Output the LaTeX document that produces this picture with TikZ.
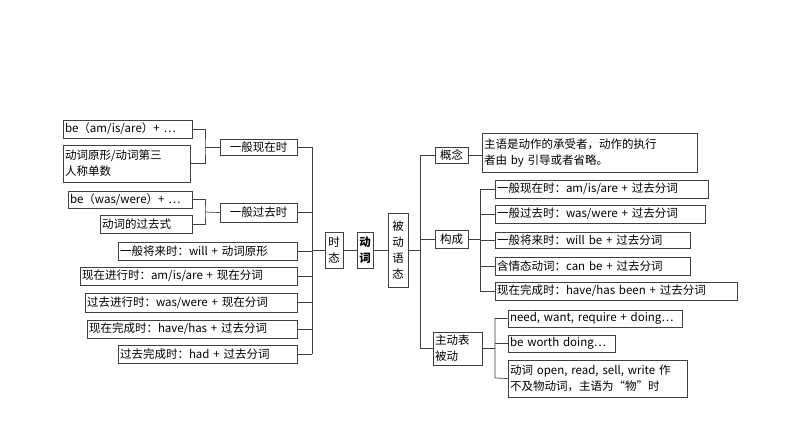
\documentclass[tikz,border=0pt]{standalone}
\usepackage{fontspec}
\setmainfont{Noto Sans CJK SC}
\begin{document}
\begin{tikzpicture}[x=1pt,y=-1pt,font=\fontsize{11.5}{16}\selectfont,
  bx/.style={draw=black!75,line width=0.7pt,inner sep=2pt,anchor=center},
  ln/.style={draw=black!75,line width=0.7pt}]
\useasboundingbox (0,0) rectangle (794,447);
\fill[white] (0,0) rectangle (794,447);
\newcommand\bx[6]{\node[bx,minimum width={#4-#2},minimum height={#5-#3},text width={#4-#2-4},align=left] (#1) at ({(#2+#4)/2},{(#3+#5)/2}) {#6};}
\newcommand\bxc[6]{\node[bx,minimum width={#4-#2},minimum height={#5-#3},text width={#4-#2-4},align=center] (#1) at ({(#2+#4)/2},{(#3+#5)/2}) {#6};}
% left
\bx{a1}{63}{120}{192}{138}{be（am/is/are）+ …}
\bx{a2}{63}{145}{190}{182}{动词原形/动词第三\\人称单数}
\bxc{p1}{220}{139}{297}{155}{一般现在时}
\bx{b1}{68}{191}{192}{208}{be（was/were）+ …}
\bx{b2}{100}{215}{192}{233}{动词的过去式}
\bxc{p2}{220}{203}{297}{222}{一般过去时}
\bx{t3}{118}{242}{297}{260}{一般将来时：will + 动词原形}
\bx{t4}{80}{267}{297}{285}{现在进行时：am/is/are + 现在分词}
\bx{t5}{85}{293}{297}{312}{过去进行时：was/were + 现在分词}
\bx{t6}{87}{320}{297}{338}{现在完成时：have/has + 过去分词}
\bx{t7}{118}{345}{297}{363}{过去完成时：had + 过去分词}
\bxc{sz}{325}{232}{343}{268}{时\\态}
\bxc{dc}{357}{232}{373}{268}{\textbf{动}\\\textbf{词}}
\bxc{bd}{388}{213}{408}{287}{被\\动\\语\\态}
% right
\bxc{gn}{435}{147}{468}{163}{概念}
\bx{gnt}{482}{133}{697}{172}{主语是动作的承受者，动作的执行\\者由 by 引导或者省略。}
\bxc{gc}{435}{230}{468}{248}{构成}
\bx{c1}{495}{180}{708}{198}{一般现在时：am/is/are + 过去分词}
\bx{c2}{495}{205}{705}{223}{一般过去时：was/were + 过去分词}
\bx{c3}{495}{232}{690}{248}{一般将来时：will be + 过去分词}
\bx{c4}{495}{257}{690}{275}{含情态动词：can be + 过去分词}
\bx{c5}{495}{282}{737}{300}{现在完成时：have/has been + 过去分词}
\bx{zd}{433}{332}{482}{365}{主动表\\被动}
\bx{d1}{508}{310}{682}{327}{\mbox{need, want, require + doing…}}
\bx{d2}{508}{335}{615}{352}{be worth doing…}
\bx{d3}{508}{360}{687}{397}{动词 open, read, sell, write 作\\不及物动词，主语为“物”时}
% connectors left
\draw[ln] (a1.east) -| (205,147) |- (a2.east);
\draw[ln] (205,147) -- (p1.west);
\draw[ln] (b1.east) -| (205,212) |- (b2.east);
\draw[ln] (205,212) -- (p2.west);
\draw[ln] (p1.east) -| (312,354);
\foreach \n in {p2,t3,t4,t5,t6} \draw[ln] (\n.east) -- (312,0 |- \n.east);
\draw[ln] (t7.east) -- (312,354);
\draw[ln] (312,250) -- (sz.west);
\draw[ln] (sz.east) -- (dc.west);
\draw[ln] (dc.east) -- (bd.west);
% connectors right
\draw[ln] (bd.east) -- (420,250);
\draw[ln] (gn.west) -| (420,348) -- (zd.west |- 0,348);
\draw[ln] (gc.west) -- (420,0 |- gc.west);
\draw[ln] (gn.east) -- (gnt.west |- gn.east);
\draw[ln] (c1.west) -| (480,291) -- (c5.west);
\foreach \n in {c2,c3,c4} \draw[ln] (\n.west) -- (480,0 |- \n.west);
\draw[ln] (gc.east) -- (480,0 |- gc.east);
\draw[ln] (d1.west) -| (495,378) -- (d3.west);
\draw[ln] (d2.west) -- (495,0 |- d2.west);
\draw[ln] (zd.east) -- (495,0 |- zd.east);
\end{tikzpicture}
\end{document}
